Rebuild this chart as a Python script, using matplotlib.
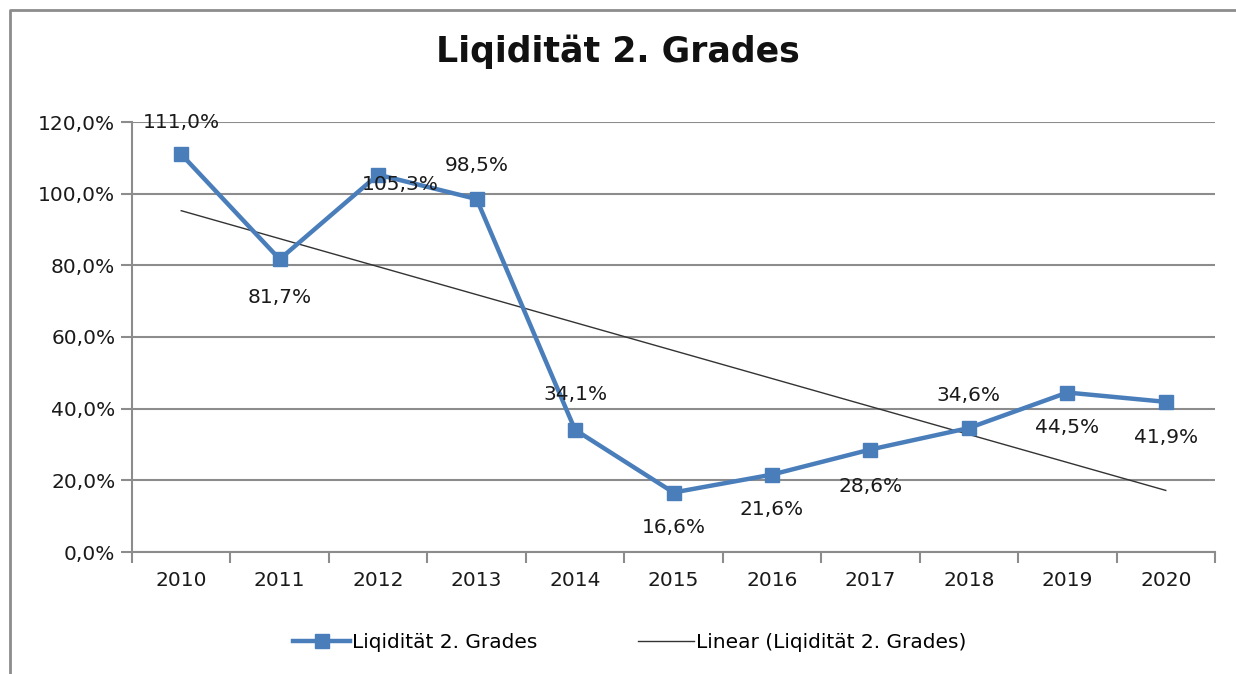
import numpy as np
import matplotlib
matplotlib.use('Agg')
import matplotlib.pyplot as plt
from matplotlib.lines import Line2D

# data
years = ['2010', '2011', '2012', '2013', '2014', '2015', '2016', '2017', '2018', '2019', '2020']
werte = [111.0, 81.7, 105.3, 98.5, 34.1, 16.6, 21.6, 28.6, 34.6, 44.5, 41.9]
y_ticks = [0, 20, 40, 60, 80, 100, 120]

# label offsets in pixels (x, y) relative to each point
label_off = [(0, 32), (0, -38), (22, -10), (0, 34), (0, 35), (0, -35),
             (0, -35), (0, -37), (0, 33), (0, -35), (0, -36)]

blau = '#4A7EBB'
grau = '#8C8C8C'

plt.rcParams['font.family'] = ['DejaVu Sans']

fig = plt.figure(figsize=(12.36, 6.74), dpi=100)
ax = fig.add_axes([132/1236, 1-552/674, (1215-132)/1236, 430/674])

x = np.arange(len(years))
y = np.array(werte)

# trend line (linear fit)
k, d = np.polyfit(x, y, 1)
ax.plot(x, k*x + d, color='#333333', lw=1.0, zorder=2, label='Linear (Liqidität 2. Grades)')

ax.plot(x, y, color=blau, lw=3.2, marker='s', markersize=10, markerfacecolor=blau,
        markeredgecolor=blau, zorder=3, label='Liqidität 2. Grades')

for i, v in enumerate(werte):
    txt = ('%.1f%%' % v).replace('.', ',')
    ax.annotate(txt, (x[i], v), xytext=label_off[i], textcoords='offset pixels',
                ha='center', va='center', fontsize=14.5, color='#1a1a1a', zorder=4)

ax.set_xlim(-0.5, len(years) - 0.5)
ax.set_ylim(0, 120)
ax.set_yticks(y_ticks)
ax.set_yticklabels([('%.1f%%' % t).replace('.', ',') for t in y_ticks], fontsize=14.5, color='#1a1a1a')
ax.set_xticks(x)
ax.set_xticklabels(years, fontsize=14.5, color='#1a1a1a')
ax.set_xticks(np.arange(-0.5, len(years)), minor=True)
ax.tick_params(axis='x', which='major', length=0, pad=14)
ax.tick_params(axis='x', which='minor', length=8, color=grau, width=1.5, direction='out')
ax.tick_params(axis='y', length=8, color=grau, width=1.5, pad=4)

ax.grid(axis='y', color=grau, lw=1.5)
ax.set_axisbelow(True)
for s in ['top', 'right']:
    ax.spines[s].set_visible(False)
for s in ['left', 'bottom']:
    ax.spines[s].set_color(grau)
    ax.spines[s].set_linewidth(1.5)

fig.text(0.5, 1-52/674, 'Liqidität 2. Grades', ha='center', va='center',
         fontsize=25, fontweight='bold', color='#111111')

handles, labels = ax.get_legend_handles_labels()
fig.legend(handles[::-1], labels[::-1], loc='center', bbox_to_anchor=(630/1236, 1-643/674),
           ncol=2, frameon=False, fontsize=14.5, handlelength=2.8, columnspacing=5,
           handletextpad=0.1)

# chart border
fig.add_artist(Line2D([10/1236, 10/1236, 1.0], [0.0, 1-10/674, 1-10/674],
                      transform=fig.transFigure, color=grau, lw=2))

fig.savefig('out.png', dpi=100)
